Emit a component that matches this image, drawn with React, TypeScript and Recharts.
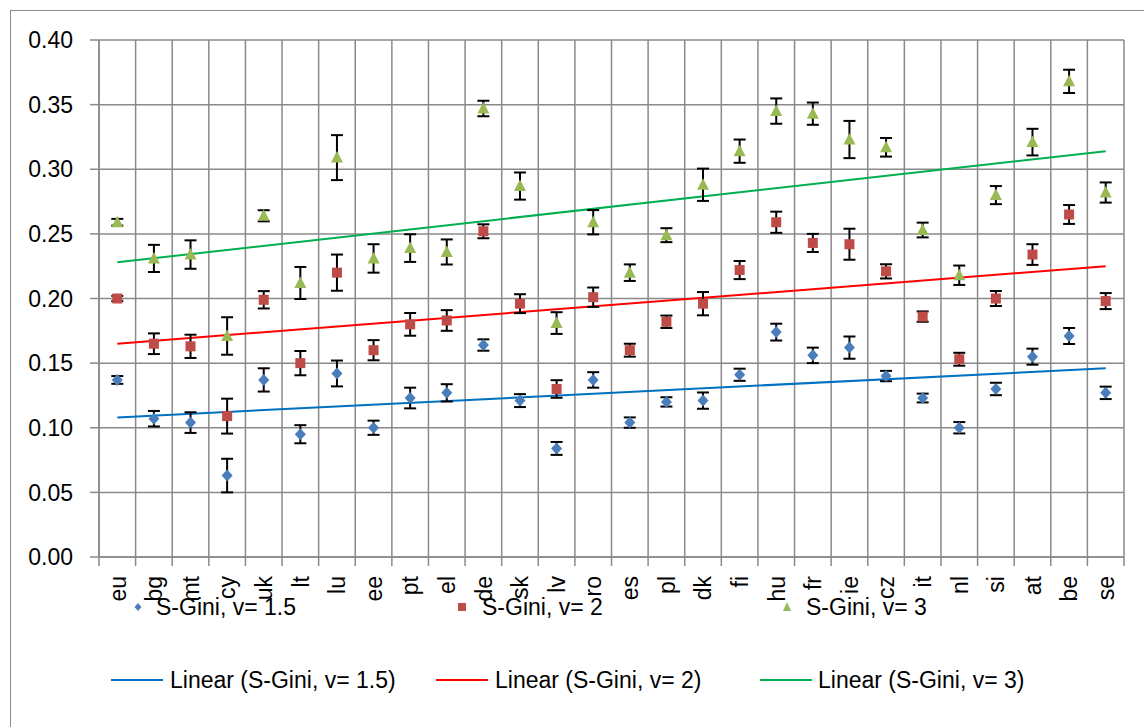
import { CartesianGrid, ComposedChart, ErrorBar, Line, XAxis, YAxis } from "recharts";

// categories in the order shown on the x axis
const countries = [
  "eu", "bg", "mt", "cy", "uk", "lt", "lu", "ee", "pt", "el", "de", "sk", "lv", "ro",
  "es", "pl", "dk", "fi", "hu", "fr", "ie", "cz", "it", "nl", "si", "at", "be", "se",
];

// S-Gini, v = 1.5 (value, +/- error)
const gini15 = [
  0.137, 0.107, 0.104, 0.063, 0.137, 0.095, 0.142, 0.1, 0.123, 0.127, 0.164, 0.121, 0.084, 0.137,
  0.104, 0.12, 0.121, 0.141, 0.174, 0.156, 0.162, 0.14, 0.123, 0.1, 0.13, 0.155, 0.171, 0.127,
];
const err15 = [
  0.003, 0.006, 0.008, 0.013, 0.009, 0.007, 0.01, 0.0055, 0.008, 0.0067, 0.0044, 0.005, 0.005, 0.006,
  0.004, 0.0036, 0.0063, 0.0047, 0.0065, 0.006, 0.0086, 0.004, 0.0034, 0.0044, 0.0048, 0.0062, 0.0062, 0.0048,
];

// S-Gini, v = 2
const gini2 = [
  0.2, 0.165, 0.163, 0.109, 0.199, 0.15, 0.22, 0.16, 0.18, 0.183, 0.252, 0.196, 0.13, 0.201,
  0.16, 0.182, 0.196, 0.222, 0.259, 0.243, 0.242, 0.221, 0.186, 0.153, 0.2, 0.234, 0.265, 0.198,
];
const err2 = [
  0.002, 0.008, 0.009, 0.0135, 0.0067, 0.0094, 0.014, 0.0078, 0.0088, 0.008, 0.0054, 0.0073, 0.0068, 0.0075,
  0.005, 0.0048, 0.009, 0.007, 0.0082, 0.007, 0.012, 0.0055, 0.004, 0.005, 0.0058, 0.008, 0.0073, 0.0062,
];

// S-Gini, v = 3
const gini3 = [
  0.259, 0.231, 0.234, 0.171, 0.264, 0.212, 0.309, 0.231, 0.239, 0.236, 0.347, 0.287, 0.181, 0.259,
  0.22, 0.249, 0.288, 0.314, 0.345, 0.343, 0.323, 0.317, 0.253, 0.218, 0.28, 0.321, 0.368, 0.282,
];
const err3 = [
  0.0026, 0.0105, 0.011, 0.0145, 0.0043, 0.0124, 0.0174, 0.011, 0.0107, 0.0097, 0.006, 0.0105, 0.0084, 0.0094,
  0.0064, 0.0054, 0.0125, 0.009, 0.0098, 0.0086, 0.0144, 0.0072, 0.0057, 0.0075, 0.007, 0.0103, 0.009, 0.0078,
];

// linear trend lines, value at first (eu) and last (se) category
const trend15 = [0.108, 0.146];
const trend2 = [0.165, 0.225];
const trend3 = [0.228, 0.314];

const yTicks = [0, 0.05, 0.1, 0.15, 0.2, 0.25, 0.3, 0.35, 0.4];

const BLUE = "#4a7ebb";
const RED = "#be4b48";
const GREEN = "#98b954";
const GRID = "#8a8a8a";
const FONT = "'Liberation Sans', Arial, sans-serif";

const last = countries.length - 1;
const trendAt = (t: number[], i: number) => (i === 0 ? t[0] : i === last ? t[1] : undefined);

const data = countries.map((country, i) => ({
  country,
  v15: gini15[i],
  e15: err15[i],
  v2: gini2[i],
  e2: err2[i],
  v3: gini3[i],
  e3: err3[i],
  t15: trendAt(trend15, i),
  t2: trendAt(trend2, i),
  t3: trendAt(trend3, i),
}));

// vertical grid lines sit on the category boundaries, like Excel
const boundaryLines = ({ offset }: any) =>
  Array.from({ length: countries.length + 1 }, (_, i) => offset.left + (offset.width * i) / countries.length);

type DotProps = { cx?: number; cy?: number; index?: number };

const diamond = ({ cx, cy, index }: DotProps) =>
  cx == null || cy == null ? (
    <g key={`d-${index}`} />
  ) : (
    <path
      key={`d-${index}`}
      d={`M${cx},${cy - 6}L${cx + 5.5},${cy}L${cx},${cy + 6}L${cx - 5.5},${cy}Z`}
      fill={BLUE}
    />
  );

const square = ({ cx, cy, index }: DotProps) =>
  cx == null || cy == null ? (
    <g key={`s-${index}`} />
  ) : (
    <rect key={`s-${index}`} x={cx - 5} y={cy - 5} width={10} height={10} fill={RED} />
  );

const triangle = ({ cx, cy, index }: DotProps) =>
  cx == null || cy == null ? (
    <g key={`t-${index}`} />
  ) : (
    <path
      key={`t-${index}`}
      d={`M${cx},${cy - 6.5}L${cx + 6},${cy + 5}L${cx - 6},${cy + 5}Z`}
      fill={GREEN}
    />
  );

// label plus the small tick marks on the boundaries either side of it
const CountryTick = (props: any) => {
  const { x, y, payload, width, visibleTicksCount, index } = props;
  const half = width / visibleTicksCount / 2;
  return (
    <g>
      <line x1={x - half} x2={x - half} y1={y} y2={y + 9} stroke={GRID} strokeWidth={1.5} />
      {index === visibleTicksCount - 1 && (
        <line x1={x + half} x2={x + half} y1={y} y2={y + 9} stroke={GRID} strokeWidth={1.5} />
      )}
      <text
        transform={`translate(${x},${y}) rotate(-90)`}
        x={-19}
        dy="0.36em"
        textAnchor="end"
        fontSize={23}
        fontFamily={FONT}
        fill="#000"
      >
        {payload.value}
      </text>
    </g>
  );
};

const Legend = () => {
  const text = { fontSize: 23, fontFamily: FONT, fill: "#000" };
  return (
    <svg
      width={1144}
      height={727}
      style={{ position: "absolute", left: 0, top: 0, pointerEvents: "none" }}
    >
      <path d="M138,603L141.5,607L138,611L134.5,607Z" fill={BLUE} />
      <text x={156} y={607} dy="0.36em" {...text}>S-Gini, v= 1.5</text>
      <rect x={458} y={603} width={8} height={8} fill={RED} />
      <text x={482} y={607} dy="0.36em" {...text}>S-Gini, v= 2</text>
      <path d="M787,602L791,611L783,611Z" fill={GREEN} />
      <text x={806} y={607} dy="0.36em" {...text}>S-Gini, v= 3</text>

      <line x1={111} x2={163} y1={680} y2={680} stroke="#0070c0" strokeWidth={2} />
      <text x={170} y={680} dy="0.36em" {...text}>Linear (S-Gini, v= 1.5)</text>
      <line x1={436} x2={488} y1={680} y2={680} stroke="#ff0000" strokeWidth={2} />
      <text x={495} y={680} dy="0.36em" {...text}>Linear (S-Gini, v= 2)</text>
      <line x1={760} x2={812} y1={680} y2={680} stroke="#00b050" strokeWidth={2} />
      <text x={818} y={680} dy="0.36em" {...text}>Linear (S-Gini, v= 3)</text>
    </svg>
  );
};

export default function App() {
  return (
    <div style={{ position: "absolute", left: 0, top: 0, width: 1144, height: 727, background: "#fff" }}>
      <div
        style={{
          position: "absolute",
          left: 10,
          top: 10,
          width: 1134,
          height: 717,
          borderLeft: `1.5px solid ${GRID}`,
          borderTop: `1.5px solid ${GRID}`,
        }}
      />
      <ComposedChart
        width={1144}
        height={727}
        data={data}
        margin={{ top: 40, right: 20, bottom: 140, left: 0 }}
        style={{ position: "absolute", left: 0, top: 0 }}
      >
        <CartesianGrid stroke={GRID} strokeWidth={1.5} verticalCoordinatesGenerator={boundaryLines} />
        <XAxis
          dataKey="country"
          type="category"
          scale="band"
          interval={0}
          axisLine={{ stroke: GRID, strokeWidth: 1.5 }}
          tickLine={false}
          tickSize={0}
          tickMargin={0}
          height={30}
          tick={<CountryTick />}
        />
        <YAxis
          domain={[0, 0.4]}
          ticks={yTicks}
          interval={0}
          allowDataOverflow
          width={99}
          tickSize={9}
          tickMargin={17}
          tickFormatter={(v: number) => v.toFixed(2)}
          tick={{ fill: "#000", fontSize: 23, fontFamily: FONT }}
          axisLine={{ stroke: GRID, strokeWidth: 1.5 }}
          tickLine={{ stroke: GRID, strokeWidth: 1.5 }}
        />

        <Line dataKey="t15" stroke="#0070c0" strokeWidth={2} dot={false} activeDot={false} connectNulls isAnimationActive={false} />
        <Line dataKey="t2" stroke="#ff0000" strokeWidth={2} dot={false} activeDot={false} connectNulls isAnimationActive={false} />
        <Line dataKey="t3" stroke="#00b050" strokeWidth={2} dot={false} activeDot={false} connectNulls isAnimationActive={false} />

        <Line dataKey="v15" stroke="none" dot={diamond} activeDot={false} isAnimationActive={false}>
          <ErrorBar dataKey="e15" direction="y" width={6} stroke="#000" strokeWidth={2} />
        </Line>
        <Line dataKey="v2" stroke="none" dot={square} activeDot={false} isAnimationActive={false}>
          <ErrorBar dataKey="e2" direction="y" width={6} stroke="#000" strokeWidth={2} />
        </Line>
        <Line dataKey="v3" stroke="none" dot={triangle} activeDot={false} isAnimationActive={false}>
          <ErrorBar dataKey="e3" direction="y" width={6} stroke="#000" strokeWidth={2} />
        </Line>
      </ComposedChart>
      <Legend />
    </div>
  );
}
